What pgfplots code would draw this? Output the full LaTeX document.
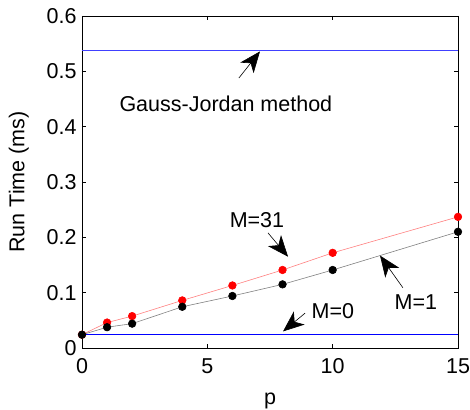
\documentclass[border=0pt]{standalone}
\usepackage{fontspec}
\setmainfont{Liberation Sans}
\usepackage{pgfplots}
\pgfplotsset{compat=1.18}
\usetikzlibrary{arrows.meta}
\begin{document}
\begin{tikzpicture}[x=1pt,y=1pt]
\useasboundingbox (-82,-61) rectangle (388,348);
\begin{axis}[
  at={(0,0)}, anchor=south west,
  scale only axis, width=376pt, height=332pt,
  xmin=0, xmax=15, ymin=0, ymax=0.6,
  xtick={0,5,10,15}, ytick={0,0.1,0.2,0.3,0.4,0.5,0.6},
  yticklabels={0,0.1,0.2,0.3,0.4,0.5,0.6},
  tick align=inside, major tick length=4pt,
  tick style={black, line width=0.8pt},
  axis line style={black, line width=0.9pt},
  /pgf/number format/assume math mode=true,
  ticklabel style={font=\fontsize{21.5}{24}\selectfont},
  yticklabel style={xshift=-2pt},
  xticklabel style={yshift=-7pt},
  label style={font=\fontsize{21.5}{24}\selectfont},
  xlabel={p}, ylabel={Run Time (ms)},
  xlabel style={at={(axis description cs:0.5,-0.158)}, anchor=center},
  ylabel style={at={(axis description cs:-0.168,0.5)}, anchor=center},
  clip=false,
]
\addplot[blue!75!white, line width=0.8pt] coordinates {(0,0.538) (15,0.538)};
\addplot[blue, line width=0.8pt] coordinates {(0,0.0244) (15,0.0244)};
\addplot[red!50!white, line width=0.6pt, mark=*, mark size=3.8pt,
  mark options={fill=red, draw=red}] coordinates {
  (0,0.024) (1,0.046) (2,0.0576) (4,0.086) (6,0.113) (8,0.141) (10,0.172) (15,0.237)};
\addplot[gray, line width=0.6pt, mark=*, mark size=3.8pt,
  mark options={fill=black, draw=black}] coordinates {
  (0,0.024) (1,0.0376) (2,0.044) (4,0.0745) (6,0.094) (8,0.115) (10,0.141) (15,0.21)};
\node[font=\fontsize{21.5}{24}\selectfont] at (axis cs:5.74,0.442) {Gauss-Jordan method};
\node[font=\fontsize{21.5}{24}\selectfont] at (axis cs:6.98,0.232) {M=31};
\node[font=\fontsize{21.5}{24}\selectfont] at (axis cs:13.32,0.083) {M=1};
\node[font=\fontsize{21.5}{24}\selectfont] at (axis cs:10.01,0.066) {M=0};
\tikzset{marr/.style={line width=0.6pt, -{Stealth[length=21pt,width=17pt,inset=6pt]}}}
\draw[marr] (axis cs:6.26,0.488) -- (axis cs:7.10,0.536);
\draw[marr] (axis cs:7.42,0.208) -- (axis cs:8.22,0.165);
\draw[marr] (axis cs:12.8,0.109) -- (axis cs:11.89,0.167);
\draw[marr] (axis cs:8.9,0.063) -- (axis cs:8.02,0.030);
\end{axis}
\end{tikzpicture}
\end{document}
